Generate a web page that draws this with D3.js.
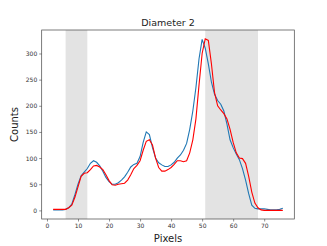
<!DOCTYPE html>
<html>
<head>
<meta charset="utf-8">
<script src="https://cdn.jsdelivr.net/npm/d3@7"></script>
<style>
  body { margin: 0; background: #fff; }
  text { font-family: "DejaVu Sans", sans-serif; }
</style>
</head>
<body>
<div id="chart"></div>
<script>
// Data
const pixels = d3.range(2, 77);
const blueCounts = [1, 1, 1, 1, 2, 5, 12, 30, 50, 66, 73, 80, 90, 95, 92, 85, 75, 63, 55, 50,
  50, 53, 58, 64, 73, 83, 88, 90, 103, 130, 150, 145, 120, 100, 91, 87, 84, 84, 87, 92,
  100, 106, 115, 128, 155, 190, 235, 290, 327, 310, 280, 245, 222, 210, 203, 190, 165, 135, 120, 108,
  97, 80, 58, 32, 10, 4, 3, 3, 3, 2, 1, 1, 1, 2, 4];
const redCounts = [2, 2, 2, 2, 2, 5, 10, 25, 45, 65, 71, 72, 78, 85, 86, 83, 78, 68, 57, 49,
  48, 50, 51, 52, 58, 68, 80, 86, 95, 115, 132, 135, 125, 100, 82, 75, 75, 78, 82, 88,
  95, 95, 93, 95, 110, 135, 175, 240, 300, 328, 325, 280, 225, 200, 192, 185, 175, 155, 130, 110,
  100, 99, 90, 65, 35, 14, 5, 1, 0, 0, 0, 0, 0, 0, 0];
const shadedSpans = [[6, 13], [51, 68]];
const xTicks = [0, 10, 20, 30, 40, 50, 60, 70];
const yTicks = [0, 50, 100, 150, 200, 250, 300];

const width = 327, height = 246;
const margin = { left: 41.7, right: 32.7, top: 30, bottom: 27 };

const svg = d3.select('#chart').append('svg')
  .attr('width', width)
  .attr('height', height);

const x = d3.scaleLinear()
  .domain([-1.7, 79.7])
  .range([margin.left, width - margin.right]);
const y = d3.scaleLinear()
  .domain([-16.45, 344.9])
  .range([height - margin.bottom, margin.top]);

// shaded regions
svg.selectAll('rect.span')
  .data(shadedSpans)
  .enter()
  .append('rect')
  .attr('class', 'span')
  .attr('x', d => x(d[0]))
  .attr('width', d => x(d[1]) - x(d[0]))
  .attr('y', margin.top)
  .attr('height', height - margin.bottom - margin.top)
  .attr('fill', '#e3e3e3');

const line = d3.line()
  .x((d, i) => x(pixels[i]))
  .y(d => y(d));

svg.append('path')
  .datum(blueCounts)
  .attr('fill', 'none')
  .attr('stroke', '#1f77b4')
  .attr('stroke-width', 1.1)
  .attr('d', line);

svg.append('path')
  .datum(redCounts)
  .attr('fill', 'none')
  .attr('stroke', 'red')
  .attr('stroke-width', 1.1)
  .attr('d', line);

// axes
const xAxis = svg.append('g')
  .attr('transform', `translate(0,${height - margin.bottom})`)
  .call(d3.axisBottom(x).tickValues(xTicks).tickSize(2.5).tickPadding(2));
const yAxis = svg.append('g')
  .attr('transform', `translate(${margin.left},0)`)
  .call(d3.axisLeft(y).tickValues(yTicks).tickSize(2.5).tickPadding(2));

[xAxis, yAxis].forEach(a => {
  a.select('.domain').remove();
  a.selectAll('line').attr('stroke', '#444').attr('stroke-width', 0.6);
  a.selectAll('text')
    .attr('font-size', '6px')
    .attr('fill', '#333')
    .style('font-family', '"DejaVu Sans", sans-serif');
});

// frame
svg.append('rect')
  .attr('x', margin.left)
  .attr('y', margin.top)
  .attr('width', width - margin.left - margin.right)
  .attr('height', height - margin.top - margin.bottom)
  .attr('fill', 'none')
  .attr('stroke', '#444')
  .attr('stroke-width', 0.7);

// title and labels
svg.append('text')
  .attr('x', (margin.left + width - margin.right) / 2)
  .attr('y', 25.5)
  .attr('text-anchor', 'middle')
  .attr('font-size', '9.5px')
  .attr('fill', '#222')
  .text('Diameter 2');

svg.append('text')
  .attr('x', (margin.left + width - margin.right) / 2)
  .attr('y', 241.5)
  .attr('text-anchor', 'middle')
  .attr('font-size', '10px')
  .attr('fill', '#222')
  .text('Pixels');

svg.append('text')
  .attr('transform', `translate(17.5,${(margin.top + height - margin.bottom) / 2}) rotate(-90)`)
  .attr('text-anchor', 'middle')
  .attr('font-size', '10px')
  .attr('fill', '#222')
  .text('Counts');
</script>
</body>
</html>
